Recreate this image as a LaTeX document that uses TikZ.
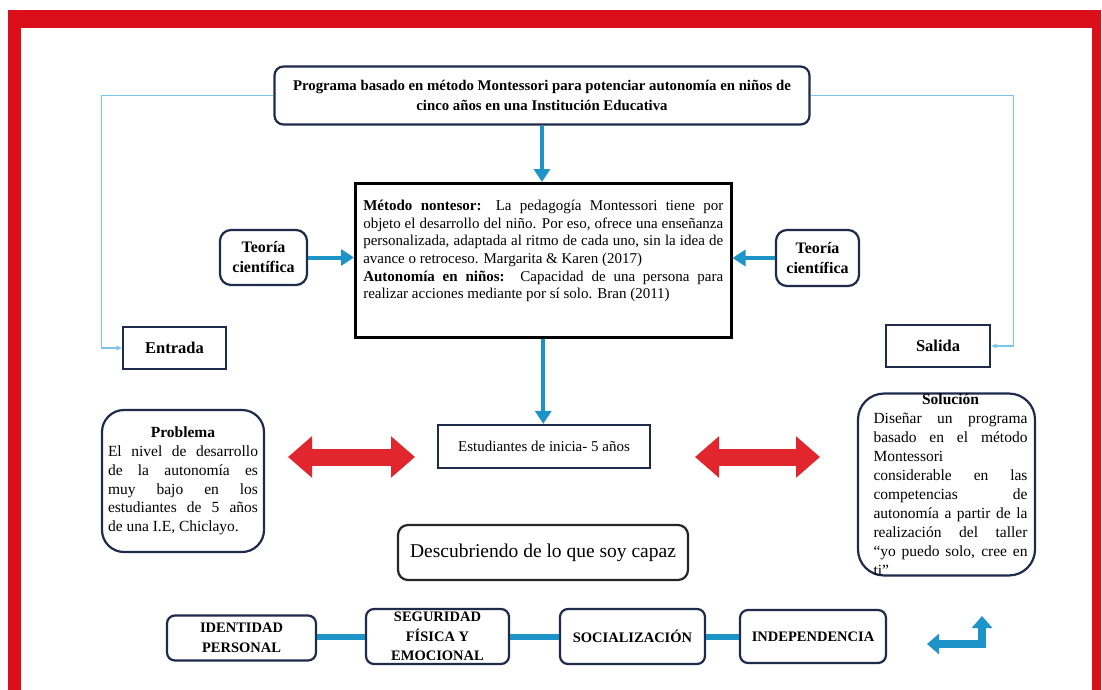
\documentclass[tikz,border=0pt]{standalone}
\usepackage{fontspec}
\setmainfont{Liberation Serif}
\usetikzlibrary{arrows.meta}
\definecolor{navy}{HTML}{1F2B4A}
\definecolor{framered}{HTML}{DA0F1A}
\definecolor{arrowblue}{HTML}{1C94C8}
\definecolor{lineblue}{HTML}{7AC6E6}
\definecolor{arrowred}{HTML}{E1272D}
\newcommand{\jline}[1]{\makebox[\linewidth][s]{#1}}
\newcommand{\lline}[1]{\makebox[\linewidth][l]{#1}}
\newcommand{\mline}[1]{\makebox[\linewidth]{#1}}
\begin{document}
\begin{tikzpicture}[x=1pt,y=-1pt,
  rbox/.style={draw=navy, line width=2.2pt, fill=white, rounded corners=9pt, inner sep=0pt},
  sbox/.style={draw=navy, line width=2.2pt, fill=white, inner sep=0pt},
  bigarrow/.style={draw=arrowblue, line width=4pt, -{Triangle[length=13pt,width=16pt]}},
  thinarrow/.style={draw=lineblue, line width=1.3pt, -{Stealth[length=6pt,width=5pt]}},
  link/.style={draw=arrowblue, line width=6pt},
  redarrow/.style={draw=arrowred, line width=17pt, {Triangle[length=24pt,width=40pt]}-{Triangle[length=24pt,width=40pt]}},
  bentarrow/.style={draw=arrowblue, line width=8pt, {Triangle[length=12pt,width=20pt]}-{Triangle[length=12pt,width=20pt]}},
  ]
\useasboundingbox (0,0) rectangle (1102,690);
\fill[white] (0,0) rectangle (1102,690);
% frame
\fill[framered] (8,10) rectangle (1101,28);
\fill[framered] (8,10) rectangle (21,690);
\fill[framered] (1092,10) rectangle (1101,690);

% nodes
\node[rbox, minimum width=535pt, minimum height=58pt, align=center,
  font=\bfseries\fontsize{14.8}{19.5}\selectfont] (top) at (542,95.5)
  {Programa basado en método Montessori para potenciar autonomía en niños de\\cinco años en una Institución Educativa};

\node[sbox, draw=black, line width=2.5pt, inner xsep=8pt, inner ysep=7pt, anchor=north west] (method) at (354,182)
  {\parbox[c][140pt][t]{360pt}{\fontsize{15}{17.6}\selectfont\vspace*{10pt}%
  \jline{\textbf{Método nontesor:} La pedagogía Montessori tiene por}\\
  \jline{objeto el desarrollo del niño. Por eso, ofrece una enseñanza}\\
  \jline{personalizada, adaptada al ritmo de cada uno, sin la idea de}\\
  \lline{avance o retroceso. Margarita \& Karen (2017)}\\
  \jline{\textbf{Autonomía en niños:}\ \ Capacidad de una persona para}\\
  \lline{realizar acciones mediante por sí solo. Bran (2011)}}};

\node[rbox, rounded corners=11pt, minimum width=87pt, minimum height=55pt, align=center,
  font=\bfseries\fontsize{16}{20}\selectfont] (teoL) at (263.5,257.5) {Teoría\\científica};
\node[rbox, rounded corners=11pt, minimum width=83pt, minimum height=56pt, align=center,
  font=\bfseries\fontsize{16}{20}\selectfont] (teoR) at (817.5,258) {Teoría\\científica};

\node[sbox, minimum width=103pt, minimum height=42pt, font=\bfseries\fontsize{16.5}{20}\selectfont] (entrada) at (174.5,348) {Entrada};
\node[sbox, minimum width=104pt, minimum height=42pt, font=\bfseries\fontsize{16.5}{20}\selectfont] (salida) at (938,346) {Salida};

\node[sbox, minimum width=212pt, minimum height=43pt, font=\fontsize{15}{18}\selectfont] (estud) at (544,446.5) {Estudiantes de inicia- 5 años};

\node[rbox, rounded corners=22pt, minimum width=162pt, minimum height=142pt] (problema) at (183,481)
  {\parbox{150pt}{\fontsize{15.5}{18.8}\selectfont
  \mline{\textbf{Problema}}\\
  \jline{El nivel de desarrollo}\\
  \jline{de la autonomía es}\\
  \jline{muy bajo en los}\\
  \jline{estudiantes de 5 años}\\
  \lline{de una I.E, Chiclayo.}}};

\node[rbox, rounded corners=26pt, minimum width=177pt, minimum height=175pt] (solucion) at (946.5,484.5)
  {\hspace*{8pt}\parbox{154pt}{\fontsize{15.5}{19}\selectfont
  \mline{\textbf{Solución}}\\
  \jline{Diseñar un programa}\\
  \jline{basado en el método}\\
  \lline{Montessori}\\
  \jline{considerable en las}\\
  \jline{competencias de}\\
  \jline{autonomía a partir de la}\\
  \jline{realización del taller}\\
  \jline{“yo puedo solo, cree en}\\
  \lline{ti”}}};

\node[rbox, draw=black!85, rounded corners=10pt, minimum width=290pt, minimum height=55pt,
  font=\fontsize{19.5}{23}\selectfont] (descub) at (543,552.5) {Descubriendo de lo que soy capaz};

\node[rbox, rounded corners=8pt, minimum width=149pt, minimum height=45pt, align=center,
  font=\bfseries\fontsize{14.5}{19.5}\selectfont] (ident) at (241.5,638) {IDENTIDAD\\PERSONAL};
\node[rbox, rounded corners=8pt, minimum width=143pt, minimum height=55pt, align=center,
  font=\bfseries\fontsize{14.5}{19.5}\selectfont] (segur) at (437.5,636.5) {SEGURIDAD\\FÍSICA Y\\EMOCIONAL};
\node[rbox, rounded corners=8pt, minimum width=145pt, minimum height=55pt, align=center,
  font=\bfseries\fontsize{14.5}{19.5}\selectfont] (social) at (632.5,636.5) {SOCIALIZACIÓN};
\node[rbox, rounded corners=8pt, minimum width=146pt, minimum height=53pt, align=center,
  font=\bfseries\fontsize{14.5}{19.5}\selectfont] (indep) at (813,636.5) {INDEPENDENCIA};

% connectors
\draw[thinarrow] (top.west) -- ++(-172pt,0) |- (entrada.west);
\draw[thinarrow] (top.east) -- ++(203pt,0) |- (salida.east);
\draw[bigarrow] (top.south) -- (top.south |- method.north);
\draw[bigarrow] (method.south) -- (method.south |- estud.north);
\draw[bigarrow] (teoL.east) -- (method.west |- teoL.east);
\draw[bigarrow] (teoR.west) -- (method.east |- teoR.west);

\draw[link] (ident.east |- segur.west) -- (segur.west);
\draw[link] (segur.east) -- (social.west);
\draw[link] (social.east) -- (indep.west);

% red double arrows
\coordinate (rl1) at (288,457);
\coordinate (rl2) at (415,457);
\coordinate (rr1) at (695,457);
\coordinate (rr2) at (820,457);
\draw[redarrow] (rl1) -- (rl2);
\draw[redarrow] (rr1) -- (rr2);

% bent arrow
\coordinate (bA) at (927,644);
\coordinate (bB) at (982,644);
\coordinate (bC) at (982,616);
\draw[bentarrow] (bA) -- (bB) -- (bC);
\end{tikzpicture}
\end{document}
